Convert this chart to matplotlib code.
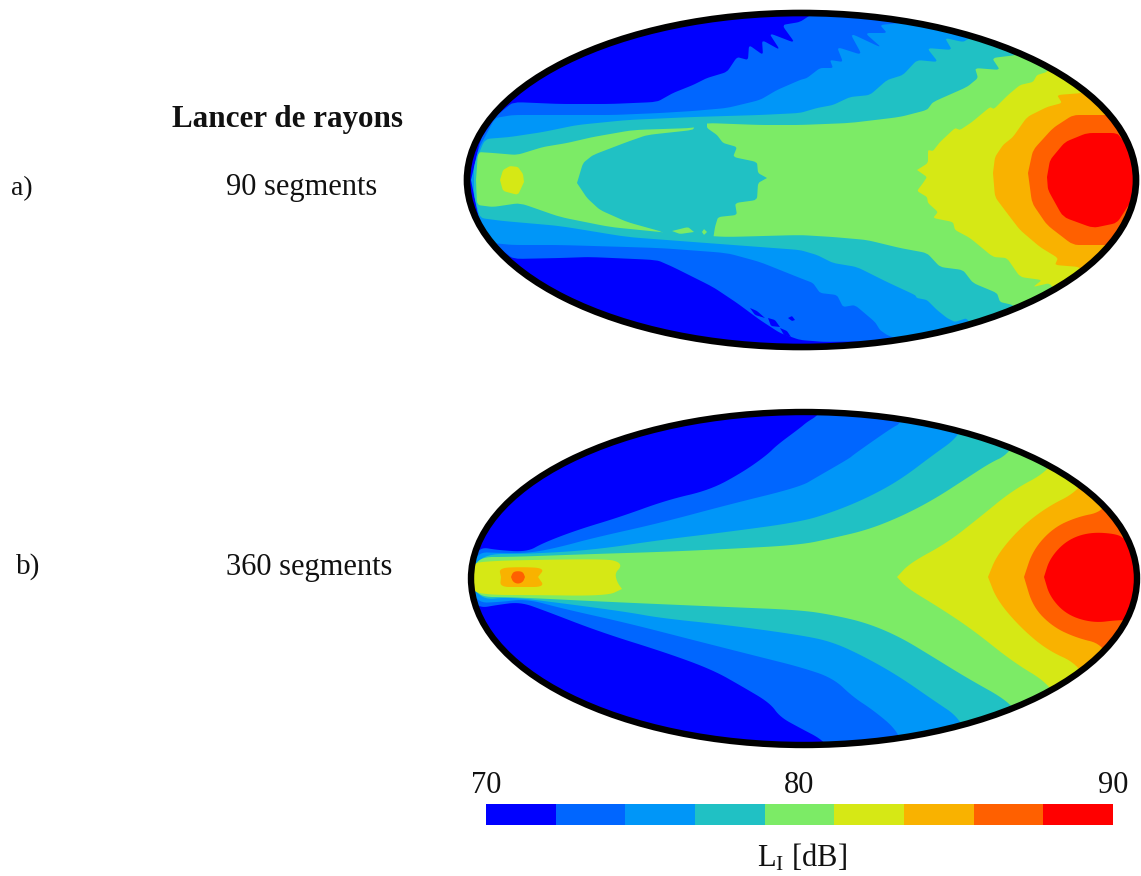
import numpy as np
import matplotlib
matplotlib.use("Agg")
import matplotlib.pyplot as plt
from matplotlib.patches import Ellipse
from matplotlib.colors import ListedColormap, BoundaryNorm
from matplotlib.cm import ScalarMappable

plt.rcParams["font.family"] = ["Liberation Serif", "DejaVu Serif"]
plt.rcParams["mathtext.fontset"] = "custom"
plt.rcParams["mathtext.rm"] = "Liberation Serif"

# colour bands of the scale, 70 to 90 dB
levels = np.linspace(70, 90, 10)
band_colors = ["#0000ff", "#0066ff", "#0096f8", "#20c1c4", "#7ceb66",
               "#d6e815", "#f9b200", "#ff6000", "#ff0000"]
bar_ticks = [70, 80, 90]

# contours, map units: (position, elevation)
# each contour: upper edge and lower edge of the zone louder than that level

# a) 90 segments
a1_top = [(472,180),(480,140),(496,116),(513,102),(560,104),(610,104),(657,102),(673,93),(693,85),(707,78),(727,72),(737,57),(748,60),(749,45),(763,55),(762,40),(780,50),(769,33),(795,43),(782,25),(800,22),(815,12),(1141,12)]
a1_bot = [(472,180),(480,225),(497,246),(513,259),(560,258),(590,257),(657,260),(673,267),(713,287),(737,303),(760,320),(780,333),(800,340),(825,342),(880,341),(890,350),(1141,350)]
a2_top = [(471,180),(478,150),(495,118),(513,115),(560,115),(613,115),(660,113),(693,111),(727,108),(760,100),(777,90),(800,80),(807,78),(820,68),(833,68),(830,60),(843,62),(837,47),(862,55),(850,33),(882,48),(865,33),(887,33),(880,25),(900,23),(905,12),(1141,12)]
a2_bot = [(471,180),(478,215),(492,243),(513,245),(560,245),(660,248),(727,253),(760,262),(800,278),(813,283),(820,293),(837,295),(843,307),(855,305),(875,322),(880,330),(887,335),(905,342),(915,350),(1141,350)]
a3_top = [(474,165),(485,139),(510,137),(543,132),(577,125),(627,120),(693,117),(760,115),(800,113),(817,108),(833,105),(850,97),(870,95),(887,80),(903,75),(917,60),(938,62),(927,48),(952,50),(945,38),(963,42),(970,38),(975,25),(1141,25)]
a3_bot = [(474,195),(480,218),(503,221),(560,226),(627,237),(693,242),(760,247),(800,250),(817,255),(833,263),(857,267),(887,282),(915,295),(917,298),(927,300),(937,310),(947,318),(955,322),(967,318),(975,335),(1141,335)]
a4_top = [(476,180),(478,152),(493,153),(517,155),(543,147),(567,143),(593,137),(633,130),(693,128),(707,123),(760,125),(800,125),(850,123),(900,117),(927,110),(933,102),(967,87),(978,78),(975,68),(1000,70),(992,58),(1017,55),(1025,40),(1141,40)]
a4_bot = [(476,180),(477,205),(493,207),(520,203),(560,217),(610,227),(660,232),(693,235),(727,237),(800,235),(833,237),(867,240),(900,248),(927,253),(940,267),(963,270),(973,283),(997,293),(1000,302),(1013,305),(1025,320),(1141,320)]
a5_top = [(917,170),(928,163),(928,150),(933,151),(940,142),(955,128),(960,130),(972,122),(990,107),(994,109),(1008,95),(1020,85),(1033,82),(1037,75),(1047,72),(1060,55),(1141,55)]
a5_bot = [(917,170),(927,177),(923,183),(917,191),(927,197),(928,203),(938,212),(933,218),(953,222),(955,230),(970,238),(993,257),(1007,258),(1020,277),(1042,280),(1033,287),(1050,283),(1060,300),(1141,300)]
a6_top = [(993,173),(995,157),(1003,145),(1013,137),(1027,117),(1047,107),(1062,103),(1057,95),(1083,93),(1095,80),(1141,80)]
a6_bot = [(993,173),(995,197),(1007,213),(1020,230),(1040,247),(1058,258),(1055,265),(1080,267),(1095,285),(1141,285)]
a7_top = [(1028,173),(1033,150),(1053,128),(1073,115),(1102,115),(1141,115)]
a7_bot = [(1028,173),(1032,203),(1047,225),(1073,245),(1100,245),(1141,245)]
a8_top = [(1047,177),(1050,160),(1065,142),(1087,133),(1117,133),(1125,143),(1141,150)]
a8_bot = [(1047,177),(1048,190),(1063,217),(1093,228),(1117,223),(1130,203),(1141,200)]
# quieter island inside the 80 dB zone, and the small peak on the left
a_island_top = [(577,183),(583,163),(593,155),(627,142),(647,135),(693,130),(695,125),(707,122),(707,128),(717,135),(723,143),(737,147),(733,157),(757,162),(758,173),(767,178)]
a_island_bot = [(577,183),(587,198),(600,210),(627,222),(663,232),(665,238),(713,240),(715,227),(718,217),(737,215),(735,203),(757,200),(758,183),(767,178)]
a_peak_top = [(500,180),(503,170),(510,166),(518,167),(523,174),(524,182)]
a_peak_bot = [(500,180),(503,191),(518,195),(524,182)]
# small leftovers along the island edge and in the lower quiet zone
a_spot1_top = [(672,231),(688,227),(694,232)]
a_spot1_bot = [(672,231),(680,234),(694,232)]
a_spot2_top = [(702,232),(704,229),(707,232)]
a_spot2_bot = [(702,232),(704,235),(707,232)]
a_hole1_top = [(750,308),(757,311),(765,318)]
a_hole1_bot = [(750,308),(755,315),(765,318)]
a_hole2_top = [(768,318),(775,320),(780,327)]
a_hole2_bot = [(768,318),(771,326),(780,327)]
a_hole3_top = [(780,328),(787,331),(791,337)]
a_hole3_bot = [(780,328),(784,335),(791,337)]
a_hole4_top = [(788,318),(792,316),(795,320)]
a_hole4_bot = [(788,318),(792,321),(795,320)]

# b) 360 segments
b1_top = [(470,578),(474,560),(480,547),(497,550),(527,552),(543,543),(577,530),(620,517),(667,500),(710,490),(743,472),(767,455),(777,445),(800,428),(807,422),(817,416),(825,405),(1141,405)]
b1_bot = [(470,578),(474,600),(480,608),(497,605),(520,602),(543,610),(600,632),(667,653),(713,670),(743,687),(770,703),(780,717),(800,728),(823,740),(830,752),(1141,752)]
b2_top = [(470,578),(476,552),(500,553),(530,553),(560,547),(593,538),(660,523),(727,505),(800,487),(817,477),(850,458),(853,455),(893,427),(900,424),(905,405),(1141,405)]
b2_bot = [(470,578),(476,603),(500,602),(527,599),(560,608),(627,623),(693,640),(760,657),(800,667),(833,678),(853,697),(873,710),(897,730),(905,752),(1141,752)]
b3_top = [(472,578),(480,554),(527,554),(593,550),(660,540),(727,532),(800,522),(833,512),(867,498),(900,480),(933,455),(957,438),(965,420),(1141,420)]
b3_bot = [(472,578),(480,600),(510,597),(560,603),(627,612),(660,618),(727,625),(800,635),(833,642),(867,658),(900,677),(933,700),(960,718),(970,745),(1141,745)]
b4_top = [(472,578),(477,557),(510,557),(593,554),(660,552),(727,549),(800,545),(833,538),(867,530),(900,517),(933,500),(967,478),(990,463),(1007,455),(1020,435),(1141,435)]
b4_bot = [(472,578),(477,597),(510,597),(610,602),(727,607),(800,610),(833,615),(867,623),(900,637),(933,657),(967,678),(1010,702),(1020,720),(1141,720)]
b5_left_top = [(468,578),(472,563),(493,561),(527,560),(607,559),(619,562),(621,567),(615,573),(617,582),(622,589)]
b5_left_bot = [(468,578),(472,592),(493,595),(527,595),(607,596),(622,589)]
b5_top = [(897,577),(910,563),(947,543),(980,517),(1013,490),(1047,472),(1060,450),(1141,450)]
b5_bot = [(897,577),(907,588),(940,608),(973,630),(1013,662),(1048,683),(1060,705),(1141,705)]
b6_left_top = [(501,577),(499,568),(520,567),(545,568),(538,577)]
b6_left_bot = [(501,577),(500,587),(520,587),(545,587),(538,577)]
b6_top = [(988,577),(997,555),(1020,528),(1047,507),(1077,492),(1090,470),(1141,470)]
b6_bot = [(988,577),(997,600),(1020,627),(1047,650),(1078,664),(1090,690),(1141,690)]
b7_left_top = [(511,577),(513,572),(518,571),(523,572),(525,577)]
b7_left_bot = [(511,577),(513,582),(518,584),(523,582),(525,577)]
b7_top = [(1024,577),(1033,550),(1053,528),(1077,517),(1102,512),(1110,495),(1141,495)]
b7_bot = [(1024,577),(1033,607),(1053,627),(1077,638),(1102,644),(1110,665),(1141,665)]
b8_top = [(1044,577),(1050,558),(1067,540),(1090,532),(1118,534),(1125,540),(1141,540)]
b8_bot = [(1044,577),(1050,597),(1067,615),(1093,623),(1118,620),(1141,620)]

map_a_zones = [(1, a1_top, a1_bot), (2, a2_top, a2_bot), (3, a3_top, a3_bot),
               (4, a4_top, a4_bot), (5, a5_top, a5_bot), (6, a6_top, a6_bot),
               (7, a7_top, a7_bot), (8, a8_top, a8_bot),
               (3, a_island_top, a_island_bot), (5, a_peak_top, a_peak_bot),
               (4, a_spot1_top, a_spot1_bot), (4, a_spot2_top, a_spot2_bot),
               (0, a_hole1_top, a_hole1_bot), (0, a_hole2_top, a_hole2_bot),
               (0, a_hole3_top, a_hole3_bot), (0, a_hole4_top, a_hole4_bot)]
map_b_zones = [(1, b1_top, b1_bot), (2, b2_top, b2_bot), (3, b3_top, b3_bot),
               (4, b4_top, b4_bot), (5, b5_left_top, b5_left_bot), (5, b5_top, b5_bot),
               (6, b6_left_top, b6_left_bot), (6, b6_top, b6_bot),
               (7, b7_left_top, b7_left_bot), (7, b7_top, b7_bot), (8, b8_top, b8_bot)]

W, H = 1141, 876
fig = plt.figure(figsize=(W / 100, H / 100), dpi=100)


# corner cutting so the hand read contours dont look like polygons
# small cut keeps the ray tracing sawteeth sharp
def smooth(pts, passes, cut):
    for _ in range(passes):
        nxt = np.roll(pts, -1, axis=0)
        pts = np.column_stack([(1 - cut) * pts + cut * nxt, cut * pts + (1 - cut) * nxt]).reshape(-1, 2)
    return pts


def draw_map(y_min, y_max, center, width, height, zones, lw, passes, cut):
    ax = fig.add_axes([460 / W, 1 - y_max / H, (W - 460) / W, (y_max - y_min) / H])
    ax.set_xlim(460, W)
    ax.set_ylim(y_max, y_min)
    ax.axis("off")
    bg = Ellipse(center, width, height, facecolor=band_colors[0], edgecolor="none")
    ax.add_patch(bg)
    for band, top, bot in zones:
        pts = smooth(np.array(top + bot[::-1], dtype=float), passes, cut)
        poly = ax.fill(pts[:, 0], pts[:, 1], color=band_colors[band], lw=0)[0]
        poly.set_clip_path(bg)
    ax.add_patch(Ellipse(center, width, height, fill=False, edgecolor="black", lw=lw, zorder=5))
    return ax


draw_map(0, 360, (801.5, 180), 669, 334, map_a_zones, 4.8, 2, 0.12)
draw_map(400, 760, (804, 578.5), 666, 333, map_b_zones, 4.6, 3, 0.25)

# colour scale
cax = fig.add_axes([486 / W, 1 - 825 / H, (1113 - 486) / W, 21 / H])
cmap = ListedColormap(band_colors)
norm = BoundaryNorm(levels, cmap.N)
cb = fig.colorbar(ScalarMappable(norm=norm, cmap=cmap), cax=cax, orientation="horizontal",
                  spacing="proportional", ticks=bar_ticks)
cb.outline.set_visible(False)
cb.ax.xaxis.set_ticks_position("top")
cb.ax.tick_params(length=0, pad=3, labelsize=22, labelcolor="#111111")
cb.ax.minorticks_off()


def label(x, y, s, **kw):
    fig.text(x / W, 1 - y / H, s, va="center", color="#111111", **kw)


label(172, 119, "Lancer de rayons", fontsize=22.4, fontweight="bold")
label(226, 187, "90 segments", fontsize=22)
label(226, 567, "360 segments", fontsize=22)
label(11, 189, "a)", fontsize=20)
label(16, 567, "b)", fontsize=21)
label(802, 858, r"$\mathrm{L_I}$ [dB]", fontsize=22, ha="center")

fig.savefig("out.png", dpi=100)
